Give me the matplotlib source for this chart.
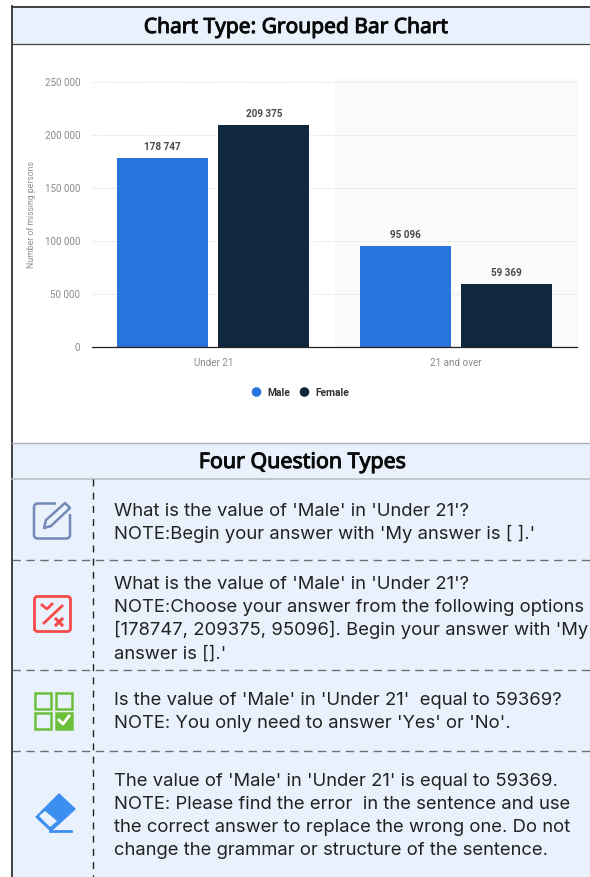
import matplotlib.pyplot as plt
import matplotlib.patheffects as pe
from matplotlib.patches import Rectangle, FancyBboxPatch, Polygon, Circle

categories = ['Under 21', '21 and over']
male = [178747, 95096]
female = [209375, 59369]
yticks = [0, 50000, 100000, 150000, 200000, 250000]

q1 = ["What is the value of 'Male' in 'Under 21'?",
      "NOTE:Begin your answer with 'My answer is [ ].'"]
q2 = ["What is the value of 'Male' in 'Under 21'?",
      "NOTE:Choose your answer from the following options",
      "[178747, 209375, 95096]. Begin your answer with 'My",
      "answer is [].'"]
q3 = ["Is the value of 'Male' in 'Under 21'  equal to 59369?",
      "NOTE: You only need to answer 'Yes' or 'No'."]
q4 = ["The value of 'Male' in 'Under 21' is equal to 59369.",
      "NOTE: Please find the error  in the sentence and use",
      "the correct answer to replace the wrong one. Do not",
      "change the grammar or structure of the sentence."]

W, H = 590, 877
BLUE = '#2874dc'
NAVY = '#10283e'
PANEL = '#e9f2fc'


def fmt(v):
    return f'{v:,}'.replace(',', ' ')


fig = plt.figure(figsize=(W / 100, H / 100), dpi=100, facecolor='white')

# page layer, everything in pixels
page = fig.add_axes([0, 0, 1, 1], zorder=0)
page.set_xlim(0, W)
page.set_ylim(H, 0)
page.axis('off')

page.add_patch(Rectangle((12, 7), W - 12, 37, fc=PANEL, ec='none'))
page.add_patch(Rectangle((12, 443), W - 12, H - 443, fc=PANEL, ec='none'))
page.plot([12, 12], [6, H], color='#333333', lw=1.3)
page.plot([12, W], [6.5, 6.5], color='#333333', lw=1.3)
page.plot([12, W], [43.5, 43.5], color='#444444', lw=0.9)
page.plot([12, W], [443, 443], color='#aab0b6', lw=1)
page.plot([12, W], [478.5, 478.5], color='#b4bbc2', lw=1.1)

# no bold cut of Noto Sans here, so thicken it with a stroke
heavy = [pe.withStroke(linewidth=0.7, foreground='#0a0a0a')]
page.text(296.5, 27.5, 'Chart Type: Grouped Bar Chart', ha='center', va='center',
          fontsize=15.1, family='Noto Sans', color='#0a0a0a', path_effects=heavy)
page.text(302.5, 462.5, 'Four Question Types', ha='center', va='center',
          fontsize=15.4, family='Noto Sans', color='#0a0a0a', path_effects=heavy)

# row separators
for y in [560, 670, 751]:
    page.plot([12, W], [y, y], color='#6b6f75', lw=1, dashes=(6, 4))
page.plot([93, 93], [479, H], color='#222222', lw=1, dashes=(5, 4.5))

# question text, y is the baseline of the first line
rows = [(q1, 515.5), (q2, 589), (q3, 705), (q4, 785.5)]
for lines, top in rows:
    for i, line in enumerate(lines):
        page.text(114, top + i * 23.2, line, ha='left', va='baseline',
                  fontsize=13.3, family='Inter', color='#222222')

# pencil icon
c = '#7289b5'
page.add_patch(FancyBboxPatch((34, 503.5), 36, 35, boxstyle='round,pad=0,rounding_size=4',
                              fc='none', ec=c, lw=1.8))
page.add_patch(Rectangle((56, 500), 18, 14, fc=PANEL, ec='none'))
page.add_patch(Polygon([(44, 528), (46, 520), (65, 503), (70, 508), (51, 526)],
                       closed=True, fc=PANEL, ec=c, lw=1.8, joinstyle='round'))

# true/false icon
c = '#f44a4a'
page.add_patch(FancyBboxPatch((34.5, 596.5), 36, 35, boxstyle='round,pad=0,rounding_size=3',
                              fc='none', ec=c, lw=2))
page.plot([44, 62], [623, 606], color=c, lw=2)
page.plot([42, 47, 52], [605, 609, 604], color=c, lw=2)
page.plot([56, 62], [619, 625], color=c, lw=2.2)
page.plot([62, 56], [619, 625], color=c, lw=2.2)

# multi choice icon
c = '#6cbf3a'
for x, y in [(35, 693), (56, 693), (35, 713)]:
    page.add_patch(Rectangle((x, y), 15.5, 15.5, fc='none', ec=c, lw=1.8))
page.add_patch(Rectangle((56, 713), 15.5, 15.5, fc=c, ec=c, lw=1.8))
page.plot([59, 63, 69], [720, 724, 716], color='white', lw=2)

# eraser icon
c = '#3d8fef'
page.add_patch(Polygon([(59, 794), (75, 809), (51, 831), (36, 817)], closed=True, fc=c, ec=c,
                       lw=1, joinstyle='round'))
page.add_patch(Polygon([(39, 816), (45, 811), (57, 821), (50, 827)], closed=True,
                       fc=PANEL, ec='none'))
page.plot([50, 71], [830.5, 830.5], color=c, lw=2)

# chart, axes placed on the same pixels as the original
left, right, top, bottom = 92, 577, 82, 347
ax = fig.add_axes([left / W, 1 - bottom / H, (right - left) / W, (bottom - top) / H],
                  zorder=1, facecolor='none')
ax.set_xlim(-0.5, 1.5)
ax.set_ylim(0, 250000)
ax.axvspan(0.5, 1.5, color='#fafafa', zorder=0, ymax=1.01, clip_on=False)
ax.yaxis.grid(True, color='#dedede', lw=0.7, linestyle=(0, (1, 1)), zorder=1)
ax.set_axisbelow(True)

offset = 0.209
width = 0.375
for i in range(len(categories)):
    ax.bar(i - offset, male[i], width, color=BLUE, zorder=2)
    ax.bar(i + offset, female[i], width, color=NAVY, zorder=2)
    ax.text(i - offset, male[i] + 10300, fmt(male[i]), ha='center', va='center',
            fontsize=7.1, fontweight='bold', family='Roboto', color='#4a4a4a')
    ax.text(i + offset, female[i] + 10300, fmt(female[i]), ha='center', va='center',
            fontsize=7.1, fontweight='bold', family='Roboto', color='#4a4a4a')

ax.set_xticks(range(len(categories)))
ax.set_xticklabels(categories, fontsize=7.1, family='Roboto', color='#8a8a8a')
ax.set_yticks(yticks)
ax.set_yticklabels([fmt(v) for v in yticks], fontsize=7.1, family='Roboto', color='#8a8a8a')
ax.tick_params(axis='both', length=0)
ax.tick_params(axis='x', pad=8)
ax.tick_params(axis='y', pad=8.5)
for s in ['top', 'left', 'right']:
    ax.spines[s].set_visible(False)
ax.spines['bottom'].set_color('#222222')
ax.spines['bottom'].set_linewidth(0.9)

page.text(32, 215, 'Number of missing persons', rotation=90, ha='center', va='center',
          fontsize=6.2, family='Roboto', color='#909090')

# legend, circles like the original
page.add_patch(Circle((256.5, 392), 4.8, fc=BLUE, ec='none'))
page.add_patch(Circle((304.5, 392), 4.8, fc=NAVY, ec='none'))
page.text(267, 392.5, 'Male', va='center', fontsize=7.4, fontweight='bold',
          family='Roboto', color='#333333')
page.text(315.5, 392.5, 'Female', va='center', fontsize=7.4, fontweight='bold',
          family='Roboto', color='#333333')

fig.savefig('out.png', dpi=100)
